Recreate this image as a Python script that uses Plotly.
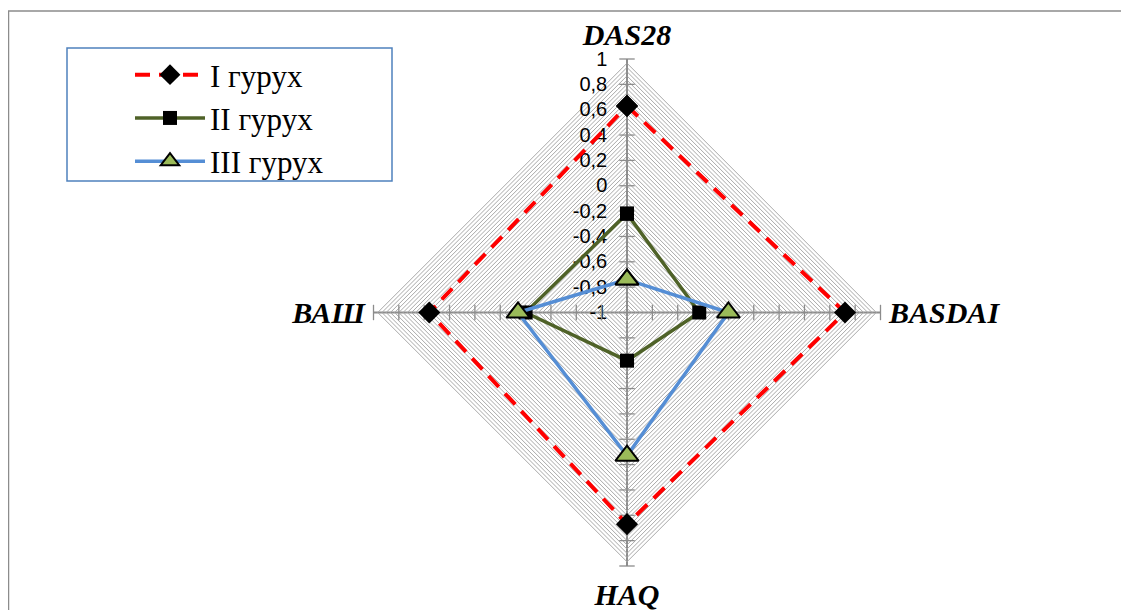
import numpy as np
import plotly.graph_objects as go

# categories clockwise from the top
categories = ["DAS28", "BASDAI", "HAQ", "ВАШ"]

group_names = ["I гурух", "II гурух", "III гурух"]
group_1 = [0.63, 0.72, 0.67, 0.56]
group_2 = [-0.22, -0.43, -0.62, -0.20]
group_3 = [-0.74, -0.20, 0.13, -0.14]

major_ticks = [-1, -0.8, -0.6, -0.4, -0.2, 0, 0.2, 0.4, 0.6, 0.8, 1]
tick_labels = ["-1", "-0,8", "-0,6", "-0,4", "-0,2", "0", "0,2", "0,4", "0,6", "0,8", "1"]

# plotly hides markers of a linear-grid polar chart whose radial range starts
# below zero, so the radial axis runs 0..2 and values are shifted by its minimum
R_MIN = major_ticks[0]

W, H = 1129, 610
OFF = 8  # the page body margin shifts the figure by this much
cx, cy, R = 627 - OFF, 312.5 - OFF, 253.5

# dense concentric grid (the hatched look of the original), labels only on majors
grid_vals = np.round(np.linspace(-1, 1, 61), 4)
grid_text = []
for v in grid_vals:
    lab = ""
    for m, t in zip(major_ticks, tick_labels):
        if abs(v - m) < 1e-6:
            lab = t
    grid_text.append(lab)


def shift(vals):
    return [v - R_MIN for v in vals]


fig = go.Figure()

# cross tick marks on every spoke
tick_symbols = {"DAS28": "line-ew", "BASDAI": "line-ns", "HAQ": "line-ew", "ВАШ": "line-ns"}
for cat in categories:
    fig.add_trace(go.Scatterpolar(
        r=shift(major_ticks[1:]), theta=[cat] * (len(major_ticks) - 1),
        mode="markers", showlegend=False, hoverinfo="skip", cliponaxis=False,
        marker=dict(symbol=tick_symbols[cat], size=11,
                    line=dict(color="#8c8c8c", width=1.3)),
    ))

styles = [
    dict(line=dict(color="#ff0000", width=4, dash="15px,9px"),
         marker=dict(symbol="diamond", size=17, color="black")),
    dict(line=dict(color="#4f6228", width=3.5),
         marker=dict(symbol="square", size=14, color="black")),
    dict(line=dict(color="#558ed5", width=3.5),
         marker=dict(symbol="triangle-up", size=20, color="#9bbb59",
                     line=dict(color="black", width=2))),
]

for i, (name, vals) in enumerate(zip(group_names, [group_1, group_2, group_3])):
    fig.add_trace(go.Scatterpolar(
        r=shift(vals + vals[:1]), theta=categories + categories[:1],
        name=name, mode="lines+markers", legendgroup=name, cliponaxis=False,
        **styles[i]
    ))

fig.update_layout(
    width=W, height=H,
    margin=dict(l=0, r=0, t=0, b=0),
    paper_bgcolor="white",
    polar=dict(
        domain=dict(x=[(cx - R) / W, (cx + R) / W], y=[1 - (cy + R) / H, 1 - (cy - R) / H]),
        gridshape="linear",
        bgcolor="white",
        radialaxis=dict(
            range=[0, major_ticks[-1] - R_MIN], angle=90, side="counterclockwise",
            tickvals=shift(list(grid_vals)), ticktext=grid_text,
            ticks="outside", ticklen=12, tickcolor="rgba(0,0,0,0)",
            showline=True, linecolor="#8c8c8c", linewidth=1.5,
            gridcolor="#a8a8a8", gridwidth=1.1,
            tickfont=dict(family="Liberation Sans", size=20, color="black"),
            tickangle=90, layer="below traces",
        ),
        angularaxis=dict(
            categoryarray=categories, categoryorder="array",
            rotation=90, direction="clockwise",
            showline=False, ticks="outside", ticklen=2, tickcolor="rgba(0,0,0,0)",
            gridcolor="#8c8c8c", gridwidth=1.5,
            tickfont=dict(family="Liberation Serif", size=30, color="black",
                          weight="bold", style="italic"),
            layer="below traces",
        ),
    ),
    showlegend=True,
    legend=dict(
        x=122 / W, y=1 - 40 / H, xanchor="left", yanchor="top",
        bgcolor="rgba(0,0,0,0)", borderwidth=0,
        font=dict(family="Liberation Serif", size=31, color="black"),
        tracegroupgap=0, itemwidth=70,
    ),
    shapes=[
        # chart area frame
        dict(type="rect", xref="paper", yref="paper",
             x0=0.5 / W, x1=1.02, y0=-0.05, y1=1 - 3 / H,
             line=dict(color="#8c8c8c", width=1.5), layer="below"),
        # legend box
        dict(type="rect", xref="paper", yref="paper",
             x0=(67 - OFF) / W, x1=(392 - OFF) / W, y0=1 - (181 - OFF) / H, y1=1 - (48 - OFF) / H,
             line=dict(color="#4f81bd", width=1.5), layer="below"),
    ],
)

fig.write_html("out.html")
